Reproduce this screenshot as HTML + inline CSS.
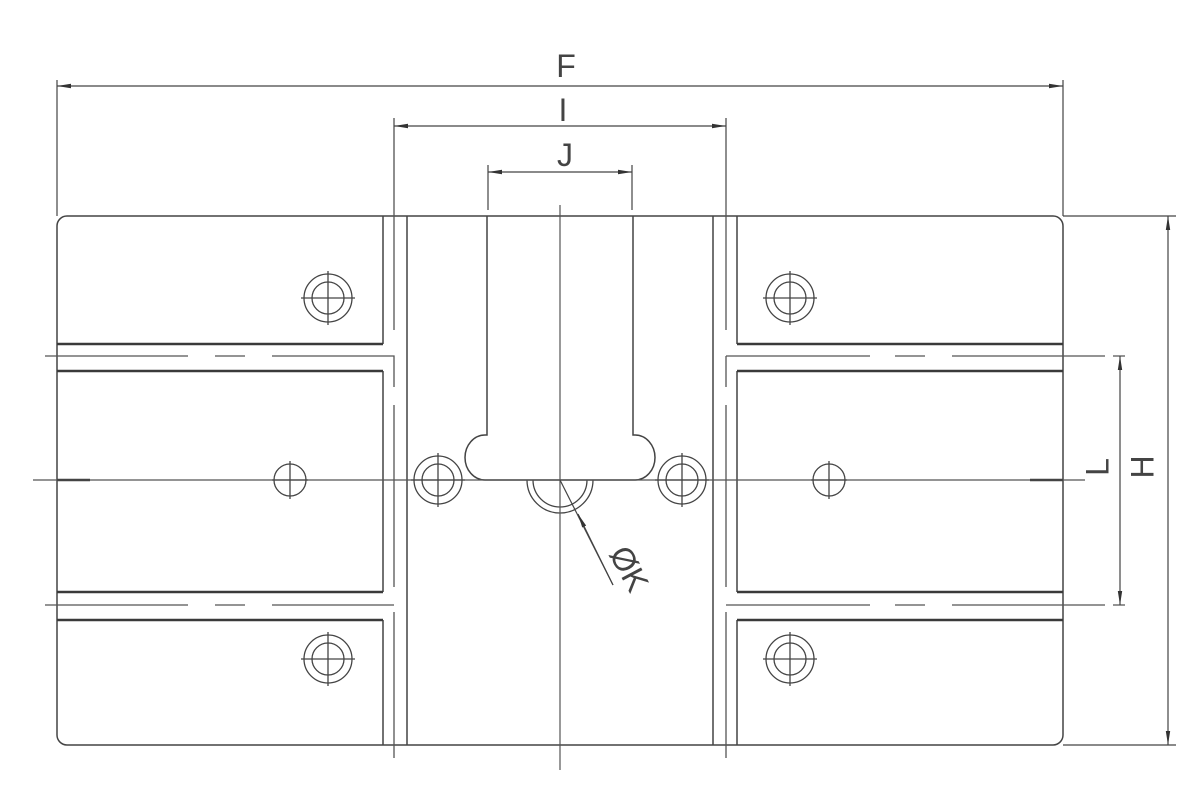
<!DOCTYPE html>
<html><head><meta charset="utf-8"><style>html,body{margin:0;padding:0;background:#fff}svg{display:block}</style></head>
<body>
<svg width="1200" height="800" viewBox="0 0 1200 800" xmlns="http://www.w3.org/2000/svg">
<defs>
<marker id="a" markerWidth="14" markerHeight="6" refX="14" refY="3" orient="auto" markerUnits="userSpaceOnUse"><path d="M0,0.8 L14,3 L0,5.2 Z" fill="#333"/></marker>
<marker id="b" markerWidth="14" markerHeight="6" refX="0" refY="3" orient="auto" markerUnits="userSpaceOnUse"><path d="M14,0.8 L0,3 L14,5.2 Z" fill="#333"/></marker>
<g id="cb" fill="none" stroke="#444" stroke-width="1.3"><circle r="24"/><circle r="16"/><path d="M-27,0H27M0,-27V27"/></g>
<g id="sh" fill="none" stroke="#444" stroke-width="1.3"><circle r="16"/><path d="M-18,0H18M0,-19V19"/></g>
</defs>
<g fill="none" stroke="#444" stroke-width="1.5">
<!-- outer body -->
<path d="M67,216 H487 M633,216 H1053 A10,10 0 0 1 1063,226 V735 A10,10 0 0 1 1053,745 H67 A10,10 0 0 1 57,735 V226 A10,10 0 0 1 67,216 Z"/>
<!-- left inner -->
<path d="M383,216 V344 M383,371 V592 M383,620 V745"/>
<path d="M407,216 V745 M713,216 V745"/>
<path d="M737,216 V344 M737,371 V592 M737,620 V745"/>
<!-- heavy lines -->
<g stroke-width="2.6" stroke="#3a3a3a">
<path d="M57,344 H383 M57,371 H383 M57,592 H383 M57,620 H383"/>
<path d="M737,344 H1063 M737,371 H1063 M737,592 H1063 M737,620 H1063"/>
</g>
<!-- dashed center lines -->
<g stroke-width="1.3" stroke="#555">
<path d="M45,356 H188 M215,356 H245 M272,356 H394 V387 M394,405 V587"/>
<path d="M45,605 H188 M215,605 H245 M272,605 H394"/>
<path d="M394,200 V330 M394,612 V758"/>
<path d="M726,200 V330 M726,356 V387 M726,405 V587 M726,612 V758"/>
<path d="M726,356 H870 M895,356 H925 M952,356 H1105 M1113,356 H1125"/>
<path d="M726,605 H870 M895,605 H925 M952,605 H1105 M1113,605 H1125"/>
</g>
<!-- slot -->
<path d="M487,216 V435 H485 A20,22.5 0 0 0 485,480 H635 A20,22.5 0 0 0 635,435 H633 V216" stroke-width="1.5"/>
<path d="M527,480 A33,33 0 0 0 593,480 M533,480 A27,27 0 0 0 587,480" stroke-width="1.3"/>
<!-- center lines -->
<path d="M33,480 H1085 M560,205 V770" stroke-width="1.2" stroke="#555"/>
<path d="M57,480 H90 M1030,480 H1063" stroke-width="2.6"/>
<!-- dimensions -->
<g stroke-width="1.2" stroke="#444">
<path d="M57,80 V216 M1063,80 V216"/>
<line x1="57" y1="86" x2="1063" y2="86" marker-start="url(#b)" marker-end="url(#a)"/>
<path d="M394,118 V200 M726,118 V200"/>
<line x1="394" y1="126" x2="726" y2="126" marker-start="url(#b)" marker-end="url(#a)"/>
<path d="M488,165 V210 M632,165 V210"/>
<line x1="488" y1="172" x2="632" y2="172" marker-start="url(#b)" marker-end="url(#a)"/>
<path d="M1063,216 H1176 M1063,745 H1176"/>
<line x1="1168" y1="216" x2="1168" y2="745" marker-start="url(#b)" marker-end="url(#a)"/>
<line x1="1120" y1="356" x2="1120" y2="605" marker-start="url(#b)" marker-end="url(#a)"/>
<line x1="560" y1="480" x2="613" y2="585"/>
<line x1="613" y1="585" x2="578" y2="514" marker-end="url(#a)"/>
</g>
</g>
<use href="#cb" x="328" y="298"/><use href="#cb" x="790" y="298"/>
<use href="#cb" x="328" y="659"/><use href="#cb" x="790" y="659"/>
<use href="#cb" x="438" y="480"/><use href="#cb" x="682" y="480"/>
<use href="#sh" x="290" y="480"/><use href="#sh" x="829" y="480"/>
<g font-family="Liberation Sans, sans-serif" font-size="32" fill="#444" text-anchor="middle">
<text x="566" y="77">F</text>
<text x="563" y="121">I</text>
<text x="565" y="166">J</text>
<text transform="translate(1145,467) rotate(-90)" dominant-baseline="middle">H</text>
<text transform="translate(1100,467) rotate(-90)" dominant-baseline="middle">L</text>
<text transform="translate(627,570) rotate(62)" dominant-baseline="middle">ØK</text>
</g>
</svg>
</body></html>
